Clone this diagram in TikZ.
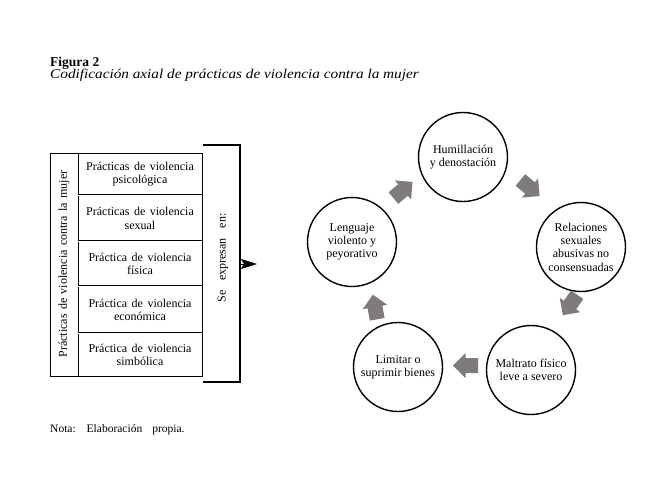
\documentclass[tikz,border=0pt]{standalone}
\usepackage{fontspec}
\setmainfont{Liberation Serif}
\newfontfamily\widefont[FakeStretch=1.13]{Liberation Serif}
\usetikzlibrary{arrows.meta}
\definecolor{arrowgray}{RGB}{128,123,123}
\newcommand\mywsp[1]{\spaceskip=#1pt plus 1pt\relax}
\begin{document}
\begin{tikzpicture}[x=1pt,y=-1pt,
  rowtext/.style={align=center, inner sep=0pt,
    font=\fontsize{12}{13.5}\selectfont\mywsp{4.5}},
  sidetext/.style={rotate=90, inner sep=0pt,
    font=\fontsize{12}{13.5}\selectfont\mywsp{4.4}},
  circ/.style={circle, draw, line width=1.4pt, minimum size=89pt,
    inner sep=0pt, align=center, font=\fontsize{12}{13.3}\selectfont},
  boxline/.style={line width=0.8pt},
  sep/.style={draw, double, double distance=0.9pt, line width=0.5pt},
  blockarrow/.pic={\fill[arrowgray] (12.5,0) -- (0,12.5) -- (0,7.5) -- (-12.5,7.5)
     -- (-12.5,-7.5) -- (0,-7.5) -- (0,-12.5) -- cycle;}
]
\fill[white] (0,0) rectangle (654,491);
\useasboundingbox (0,0) rectangle (654,491);

% title
\node[anchor=base west, inner sep=0pt, font=\fontsize{13.5}{15}\selectfont\bfseries] (fig) at (50,66) {Figura 2};
\node[anchor=base west, inner sep=0pt, font=\widefont\fontsize{13.5}{15}\selectfont\itshape] (sub) at (50,78) {Codificación axial de prácticas de violencia contra la mujer};

% left box
\draw[boxline] (50,153) rectangle (202,376);
\draw[boxline] (78,153) -- (78,376);
\draw[sep] (78,195) -- (202,195);
\draw[sep] (78,241) -- (202,241);
\draw[sep] (78,286) -- (202,286);
\draw[sep] (78,333) -- (202,333);

\node[sidetext] (mujer) at (64,264) {Prácticas de violencia contra la mujer};
\node[rowtext] (r1) at (140,174) {Prácticas de violencia\\psicológica};
\node[rowtext] (r2) at (140,218.5) {Prácticas de violencia\\sexual};
\node[rowtext] (r3) at (140,264) {Práctica de violencia\\física};
\node[rowtext] (r4) at (140,310) {Práctica de violencia\\económica};
\node[rowtext] (r5) at (140,355) {Práctica de violencia\\simbólica};

% bracket
\draw[boxline, line width=1.1pt] (203,145) -- (240,145) coordinate (btop) -- (240,382) -- (203,382);
\coordinate (bmid) at (240,264);
\coordinate (btip) at (257,264);
\draw[line width=0.6pt, -{Stealth[length=16pt,width=10pt,inset=3pt]}] (bmid) -- (btip);
\node[sidetext, font=\fontsize{12}{13.5}\selectfont\mywsp{10}] (se) at (223,258) {Se expresan en:};

% circles
\node[circ] (hum) at (463,157) {Humillación\\y denostación};
\node[circ] (rel) at (581,247) {Relaciones\\sexuales\\abusivas no\\consensuadas};
\node[circ] (mal) at (531,370) {Maltrato físico\\leve a severo};
\node[circ] (lim) at (398,367) {Limitar o\\suprimir bienes};
\node[circ] (len) at (352,242) {Lenguaje\\violento y\\peyorativo};

% block arrows
\pic[rotate=-40] at (530,188) {blockarrow};
\pic[rotate=-125] at (570,305) {blockarrow};
\pic[rotate=180] at (465.5,365.5) {blockarrow};
\pic[rotate=100] at (375,307) {blockarrow};
\pic[rotate=40] at (403,190) {blockarrow};

% note
\node[anchor=base west, inner sep=0pt, font=\fontsize{11.5}{12}\selectfont\mywsp{10}] (nota) at (50,432) {Nota: Elaboración propia.};
\end{tikzpicture}
\end{document}
